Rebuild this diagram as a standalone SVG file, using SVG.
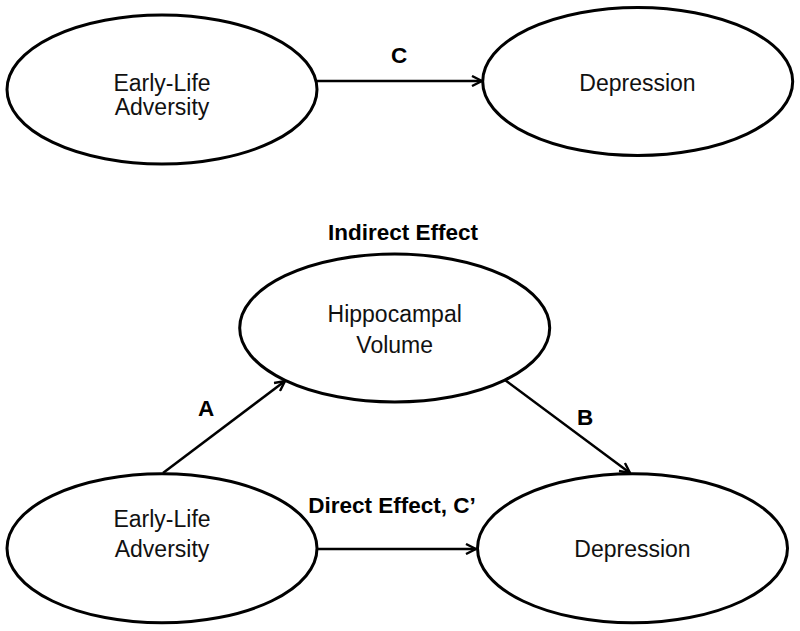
<svg xmlns="http://www.w3.org/2000/svg" width="800" height="631" viewBox="0 0 800 631">
<defs>
<marker id="arr" viewBox="0 0 12 12" refX="11" refY="6" markerWidth="12" markerHeight="12" markerUnits="userSpaceOnUse" orient="auto">
<path d="M1,1 L11,6 L1,11" fill="none" stroke="#000" stroke-width="2.4"/>
</marker>
<style>
.node{fill:#fff;stroke:#000;stroke-width:3}
.t{font-family:"Liberation Sans",Arial,sans-serif;font-size:23px;fill:#111;text-anchor:middle}
.b{font-family:"Liberation Sans",Arial,sans-serif;font-size:22.5px;font-weight:bold;fill:#000;text-anchor:middle}
.c{stroke:#000;stroke-width:2.5;fill:none;marker-end:url(#arr)}
</style>
</defs>
<rect width="800" height="631" fill="#fff"/>
<g id="connectors">
<line class="c" x1="317" y1="81" x2="482" y2="81"/>
<line class="c" x1="163" y1="473" x2="285" y2="381"/>
<line class="c" x1="505" y1="380" x2="630" y2="473"/>
<line class="c" x1="317" y1="549" x2="476" y2="549"/>
</g>
<g id="labels">
<text class="b" x="399" y="63">C</text>
<text class="b" x="403" y="240">Indirect Effect</text>
<text class="b" x="206" y="416">A</text>
<text class="b" x="585" y="425">B</text>
<text class="b" x="392" y="513">Direct Effect, C’</text>
</g>
<g id="top-adversity">
<ellipse class="node" cx="162" cy="89.5" rx="155" ry="74.5"/>
<text class="t" x="162" y="91">Early-Life</text>
<text class="t" x="162" y="115">Adversity</text>
</g>
<g id="top-depression">
<ellipse class="node" cx="637.7" cy="81.5" rx="155" ry="74"/>
<text class="t" x="637.5" y="90.5">Depression</text>
</g>
<g id="hippocampal">
<ellipse class="node" cx="394.7" cy="328" rx="155" ry="74"/>
<text class="t" x="394.7" y="322">Hippocampal</text>
<text class="t" x="394.7" y="353">Volume</text>
</g>
<g id="bottom-adversity">
<ellipse class="node" cx="162" cy="548.3" rx="155" ry="74.5"/>
<text class="t" x="162" y="527">Early-Life</text>
<text class="t" x="162" y="557">Adversity</text>
</g>
<g id="bottom-depression">
<ellipse class="node" cx="632.5" cy="548.3" rx="155" ry="74.5"/>
<text class="t" x="632.5" y="557">Depression</text>
</g>
</svg>
